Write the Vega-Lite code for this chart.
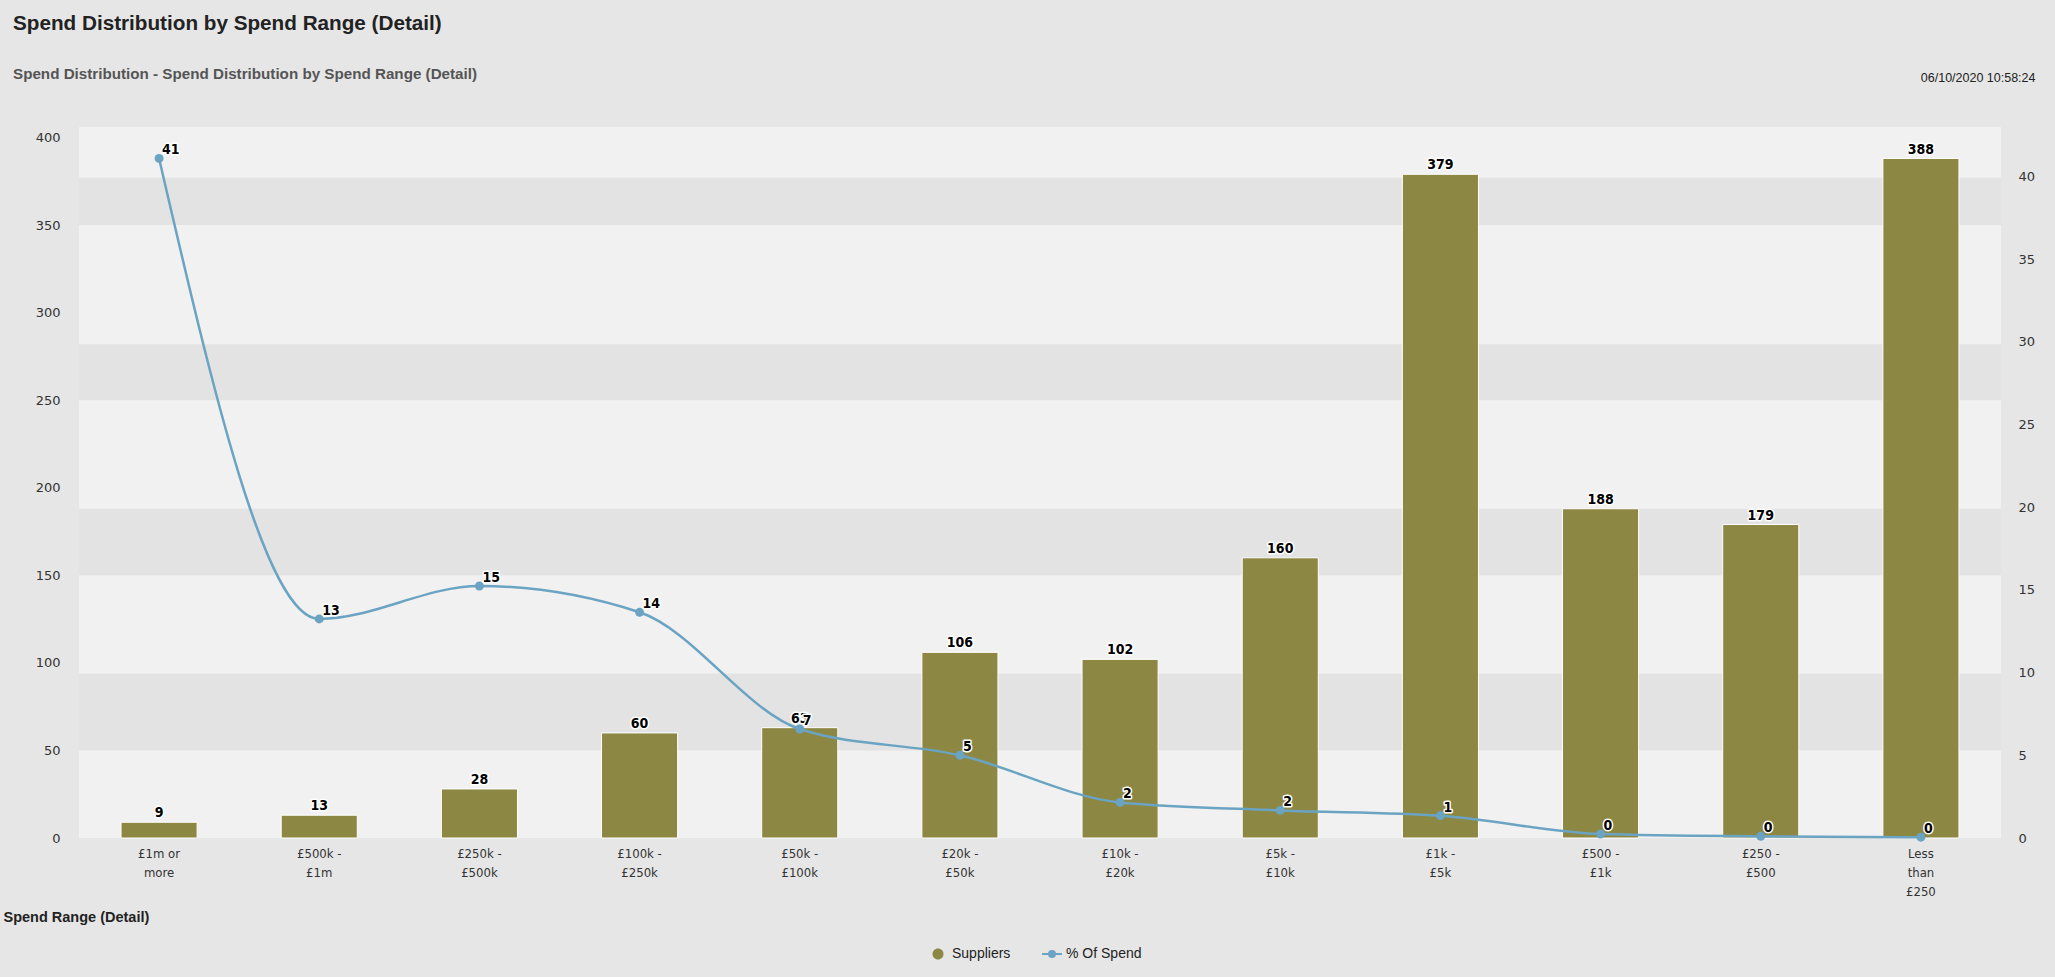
{
  "$schema": "https://vega.github.io/schema/vega-lite/v6.json",
  "autosize": "none",
  "padding": {"left": 79, "top": 127, "right": 54, "bottom": 139},
  "width": 1922,
  "height": 711,
  "background": "#e6e6e6",
  "view": {"fill": "#f1f1f1", "stroke": null},
  "title": {
    "text": "Spend Distribution by Spend Range (Detail)",
    "subtitle": "Spend Distribution - Spend Distribution by Spend Range (Detail)",
    "anchor": "start",
    "frame": "group",
    "dx": -66,
    "dy": 56,
    "offset": 44,
    "font": "Liberation Sans",
    "fontSize": 20.7,
    "fontWeight": "bold",
    "color": "#222222",
    "subtitleFont": "Liberation Sans",
    "subtitleFontSize": 15.2,
    "subtitleFontWeight": "bold",
    "subtitleColor": "#555555",
    "subtitlePadding": 32
  },
  "datasets": {
    "spend": [
      {"range": "£1m or more", "suppliers": 9, "pct": 41.1},
      {"range": "£500k - £1m", "suppliers": 13, "pct": 13.25},
      {"range": "£250k - £500k", "suppliers": 28, "pct": 15.24},
      {"range": "£100k - £250k", "suppliers": 60, "pct": 13.65},
      {"range": "£50k - £100k", "suppliers": 63, "pct": 6.59},
      {"range": "£20k - £50k", "suppliers": 106, "pct": 5.0},
      {"range": "£10k - £20k", "suppliers": 102, "pct": 2.15},
      {"range": "£5k - £10k", "suppliers": 160, "pct": 1.67},
      {"range": "£1k - £5k", "suppliers": 379, "pct": 1.35},
      {"range": "£500 - £1k", "suppliers": 188, "pct": 0.24},
      {"range": "£250 - £500", "suppliers": 179, "pct": 0.1},
      {"range": "Less than £250", "suppliers": 388, "pct": 0.05}
    ],
    "bands": [
      {"lo": 50, "hi": 94},
      {"lo": 150, "hi": 188},
      {"lo": 250, "hi": 282},
      {"lo": 350, "hi": 377}
    ]
  },
  "encoding": {
    "x": {
      "field": "range",
      "type": "nominal",
      "sort": null,
      "scale": {"paddingInner": 0.525, "paddingOuter": 0.2625},
      "axis": {
        "title": "Spend Range (Detail)",
        "titleFont": "Liberation Sans",
        "titleFontSize": 14.5,
        "titleFontWeight": "bold",
        "titleColor": "#222222",
        "titleAnchor": "start",
        "titleAlign": "left",
        "titleBaseline": "middle",
        "titleX": -76,
        "titleY": 79,
        "labelAngle": 0,
        "labelFont": "DejaVu Sans Condensed",
        "labelFontSize": 13,
        "labelColor": "#333333",
        "labelLineHeight": 19,
        "labelPadding": 9,
        "labelExpr": "datum.value == 'Less than £250' ? ['Less', 'than', '£250'] : datum.value == '£1m or more' ? ['£1m or', 'more'] : [split(datum.value, ' - ')[0] + ' -', split(datum.value, ' - ')[1]]",
        "domain": false,
        "ticks": false,
        "grid": false
      }
    }
  },
  "layer": [
    {
      "layer": [
        {
          "data": {"name": "bands"},
          "mark": {"type": "rect", "color": "#e3e3e3"},
          "encoding": {
            "x": null,
            "y": {"field": "lo", "type": "quantitative"},
            "y2": {"field": "hi"}
          }
        },
        {
          "data": {"name": "spend"},
          "mark": {"type": "bar", "stroke": "#ffffff", "strokeWidth": 1},
          "encoding": {
            "y": {
              "field": "suppliers",
              "type": "quantitative",
              "scale": {"domain": [0, 406], "nice": false},
              "axis": {
                "orient": "left",
                "title": null,
                "values": [0, 50, 100, 150, 200, 250, 300, 350, 400],
                "labelFont": "DejaVu Sans",
                "labelFontSize": 13,
                "labelColor": "#333333",
                "labelPadding": 19,
                "domain": false,
                "ticks": false,
                "grid": false
              }
            },
            "color": {
              "datum": "Suppliers",
              "type": "nominal",
              "scale": {"domain": ["Suppliers", "% Of Spend"], "range": ["#8c8742", "#6ba4c3"]},
              "legend": {
                "title": null,
                "orient": "none",
                "direction": "horizontal",
                "legendX": 852,
                "legendY": 820,
                "labelFont": "Liberation Sans",
                "labelFontSize": 14,
                "labelColor": "#222222",
                "symbolSize": 400,
                "columnPadding": 27,
                "labelOffset": 7,
                "encode": {
                  "symbols": {
                    "update": {
                      "shape": {"signal": "datum.value === '% Of Spend' ? 'M-1,0H1M-0.3,0A0.3,0.3 0 1,0 0.3,0A0.3,0.3 0 1,0 -0.3,0' : 'M-0.55,0A0.55,0.55 0 1,0 0.55,0A0.55,0.55 0 1,0 -0.55,0'"},
                      "fill": {"signal": "datum.value === '% Of Spend' ? '#6ba4c3' : '#8c8742'"},
                      "stroke": {"signal": "datum.value === '% Of Spend' ? '#6ba4c3' : '#8c8742'"},
                      "strokeWidth": {"signal": "datum.value === '% Of Spend' ? 2 : 0"},
                      "opacity": {"value": 1}
                    }
                  }
                }
              }
            }
          }
        },
        {
          "data": {"name": "spend"},
          "mark": {"type": "text", "baseline": "bottom", "dy": -2, "font": "DejaVu Sans Condensed", "fontSize": 14, "fontWeight": "bold", "stroke": "#ffffff", "strokeWidth": 3, "strokeJoin": "round", "fill": "#ffffff"},
          "encoding": {
            "y": {"field": "suppliers", "type": "quantitative"},
            "text": {"field": "suppliers", "type": "quantitative"}
          }
        },
        {
          "data": {"name": "spend"},
          "mark": {"type": "text", "baseline": "bottom", "dy": -2, "font": "DejaVu Sans Condensed", "fontSize": 14, "fontWeight": "bold", "fill": "#000000"},
          "encoding": {
            "y": {"field": "suppliers", "type": "quantitative"},
            "text": {"field": "suppliers", "type": "quantitative"}
          }
        }
      ]
    },
    {
      "data": {"name": "spend"},
      "layer": [
        {
          "mark": {"type": "line", "interpolate": "monotone", "strokeWidth": 2.5},
          "encoding": {
            "y": {
              "field": "pct",
              "type": "quantitative",
              "scale": {"domain": [0, 43], "nice": false},
              "axis": {
                "orient": "right",
                "title": "06/10/2020 10:58:24",
                "titleAngle": 0,
                "titleFont": "Liberation Sans",
                "titleFontSize": 12.5,
                "titleFontWeight": "normal",
                "titleColor": "#222222",
                "titleAlign": "right",
                "titleBaseline": "middle",
                "titleX": 34,
                "titleY": -50,
                "values": [0, 5, 10, 15, 20, 25, 30, 35, 40],
                "labelFont": "DejaVu Sans",
                "labelFontSize": 13,
                "labelColor": "#333333",
                "labelPadding": 17,
                "domain": false,
                "ticks": false,
                "grid": false
              }
            },
            "color": {
              "datum": "% Of Spend",
              "type": "nominal",
              "legend": {
                "title": null,
                "orient": "none",
                "direction": "horizontal",
                "legendX": 852,
                "legendY": 820,
                "labelFont": "Liberation Sans",
                "labelFontSize": 14,
                "labelColor": "#222222",
                "symbolSize": 400,
                "columnPadding": 27,
                "labelOffset": 7,
                "encode": {
                  "symbols": {
                    "update": {
                      "shape": {"signal": "datum.value === '% Of Spend' ? 'M-1,0H1M-0.3,0A0.3,0.3 0 1,0 0.3,0A0.3,0.3 0 1,0 -0.3,0' : 'M-0.55,0A0.55,0.55 0 1,0 0.55,0A0.55,0.55 0 1,0 -0.55,0'"},
                      "fill": {"signal": "datum.value === '% Of Spend' ? '#6ba4c3' : '#8c8742'"},
                      "stroke": {"signal": "datum.value === '% Of Spend' ? '#6ba4c3' : '#8c8742'"},
                      "strokeWidth": {"signal": "datum.value === '% Of Spend' ? 2 : 0"},
                      "opacity": {"value": 1}
                    }
                  }
                }
              }
            }
          }
        },
        {
          "mark": {"type": "point", "filled": true, "size": 80, "opacity": 1},
          "encoding": {
            "y": {"field": "pct", "type": "quantitative"},
            "color": {"datum": "% Of Spend", "type": "nominal"}
          }
        },
        {
          "mark": {"type": "text", "align": "left", "baseline": "bottom", "dx": 3, "dy": -1, "font": "DejaVu Sans Condensed", "fontSize": 14, "fontWeight": "bold", "stroke": "#ffffff", "strokeWidth": 3, "strokeJoin": "round", "fill": "#ffffff"},
          "encoding": {
            "y": {"field": "pct", "type": "quantitative"},
            "text": {"field": "pct", "type": "quantitative", "format": ".0f"}
          }
        },
        {
          "mark": {"type": "text", "align": "left", "baseline": "bottom", "dx": 3, "dy": -1, "font": "DejaVu Sans Condensed", "fontSize": 14, "fontWeight": "bold", "fill": "#000000"},
          "encoding": {
            "y": {"field": "pct", "type": "quantitative"},
            "text": {"field": "pct", "type": "quantitative", "format": ".0f"}
          }
        }
      ]
    }
  ],
  "resolve": {"scale": {"y": "independent"}}
}
